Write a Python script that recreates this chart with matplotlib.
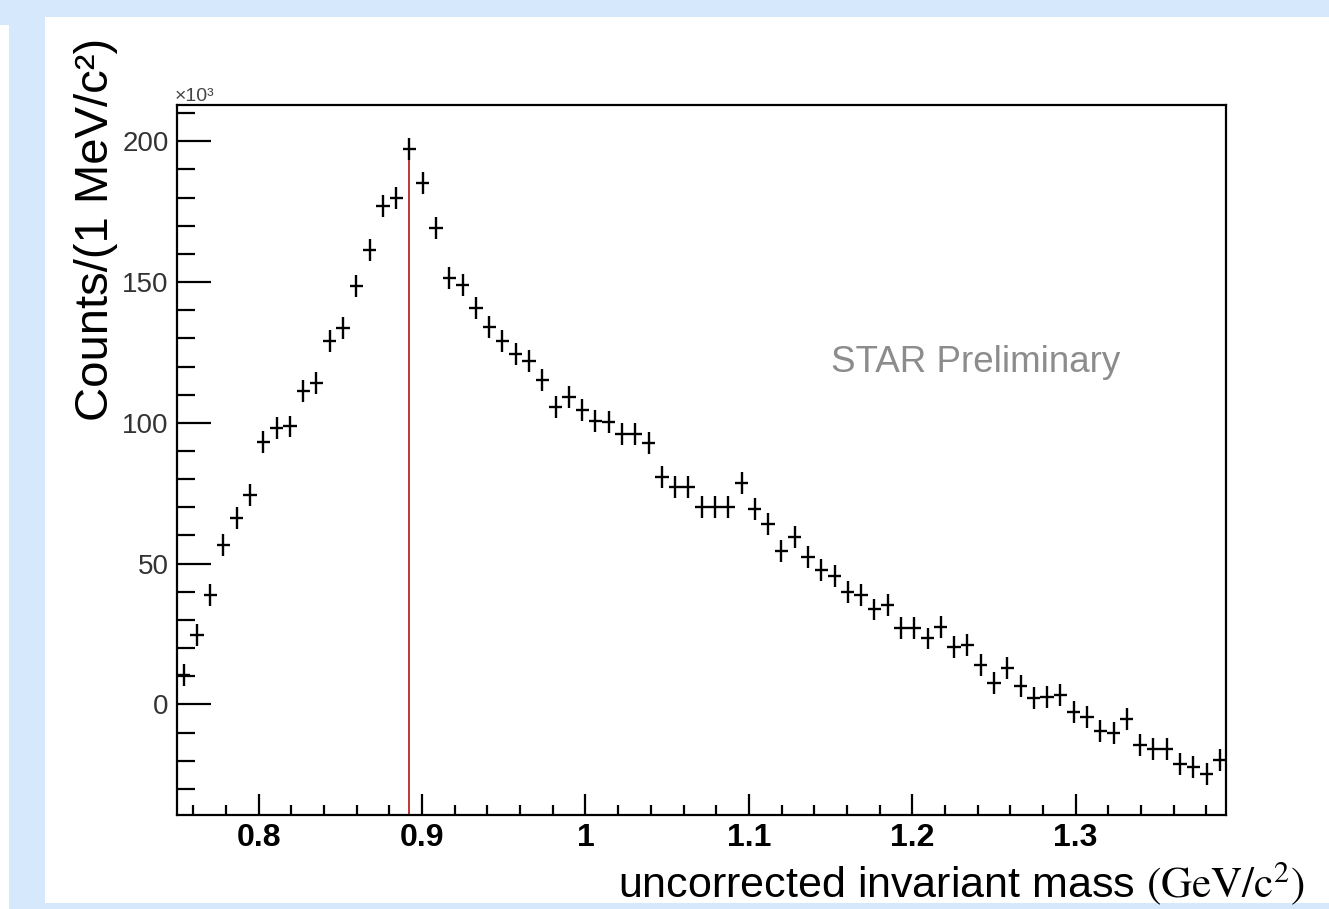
import matplotlib
matplotlib.use('Agg')
import matplotlib.pyplot as plt
import matplotlib.patches as patches
from matplotlib.ticker import MultipleLocator, FuncFormatter
import numpy as np

plt.rcParams['font.family'] = ['Liberation Sans', 'DejaVu Sans']
plt.rcParams['mathtext.fontset'] = 'stix'

# histogram binning (GeV/c^2)
x_lo = 0.75
bin_w = 0.00813
# counts per bin, in units of 10^3
counts = [10.4, 24.8, 38.8, 56.6, 66.1, 74.3, 93.3, 98.3, 98.7, 111.4,
          114.3, 128.9, 133.7, 148.6, 161.3, 177.0, 179.9, 197.4,
          185.3, 169.3, 151.5, 148.9, 140.7, 134.1, 129.2, 124.4, 122.1, 115.2,
          105.5, 109.1, 104.5, 100.7, 100.2, 96.0, 96.0, 92.7, 80.6, 77.1,
          77.3, 70.2, 70.2, 70.0, 78.5, 69.3, 64.0, 54.6, 59.3, 52.2,
          47.7, 45.6, 40.0, 38.8, 33.7, 35.3, 27.0, 27.0, 23.4, 27.4,
          20.5, 21.0, 14.0, 7.7, 12.8, 6.5, 2.1, 2.5, 3.3, -2.6,
          -4.6, -9.4, -10.1, -5.3, -14.5, -16.0, -16.0, -21.2, -22.4, -24.8,
          -19.8]
err = 3.9
m_kstar = 0.892

x_range = (0.75, 1.392)
y_range = (-39.3, 212.9)

bg = '#d6e8fc'
fig = plt.figure(figsize=(13.29, 9.09), dpi=100, facecolor=bg)
W, H = 1329.0, 909.0

# slide background pieces
fig.patches.append(patches.Rectangle((45 / W, 6 / H), 1284 / W, 886 / H,
                                     transform=fig.transFigure, facecolor='white',
                                     edgecolor='none', zorder=-2))
fig.patches.append(patches.Rectangle((0, 0), 9 / W, 1 - 25 / H,
                                     transform=fig.transFigure, facecolor='white',
                                     edgecolor='none', zorder=-2))

ax = fig.add_axes([177 / W, 1 - 815 / H, (1226 - 177) / W, (815 - 105) / H])
ax.set_zorder(2)
ax.set_facecolor('white')

n = len(counts)
centers = x_lo + (np.arange(n) + 0.5) * bin_w
ax.errorbar(centers, counts, xerr=bin_w / 2, yerr=err, fmt='none',
            ecolor='black', elinewidth=1.7, capsize=0, zorder=3)
ax.plot([m_kstar, m_kstar], [y_range[0], max(counts)], color='#b8262a',
        lw=1.3, zorder=2)

ax.set_xlim(*x_range)
ax.set_ylim(*y_range)

ax.xaxis.set_major_locator(MultipleLocator(0.1))
ax.xaxis.set_minor_locator(MultipleLocator(0.02))
ax.yaxis.set_major_locator(MultipleLocator(50))
ax.yaxis.set_minor_locator(MultipleLocator(10))
ax.xaxis.set_major_formatter(FuncFormatter(lambda v, p: f'{v:g}'))
ax.yaxis.set_major_formatter(FuncFormatter(lambda v, p: f'{v:g}'))

ax.tick_params(axis='both', which='both', direction='in', top=False, right=False,
               width=1.6, color='black')
ax.tick_params(axis='x', which='major', length=15, pad=6, labelsize=23)
ax.tick_params(axis='x', which='minor', length=7.5)
ax.tick_params(axis='y', which='major', length=24.5, pad=6, labelsize=20,
               labelcolor='#333333')
ax.tick_params(axis='y', which='minor', length=13)
for lab in ax.get_xticklabels():
    lab.set_fontweight('bold')
for s in ax.spines.values():
    s.set_linewidth(1.6)

fig.text(175 / W, 1 - 101 / H, '×10³', fontsize=14, color='#444444',
         ha='left', va='baseline')
ax.text(0.761, 0.638, 'STAR Preliminary', transform=ax.transAxes,
        fontsize=26.5, color='#8c8c8c', ha='center', va='center')

fig.text(96 / W, 1 - 38 / H, 'Counts/(1 MeV/c²)', rotation=90, fontsize=34,
         ha='center', va='top')
fig.text(1305 / W, 1 - 897 / H, r'uncorrected invariant mass $(\mathrm{GeV/c}^{2})$',
         fontsize=31, ha='right', va='baseline')

fig.savefig('out.png', dpi=100, facecolor=bg)
